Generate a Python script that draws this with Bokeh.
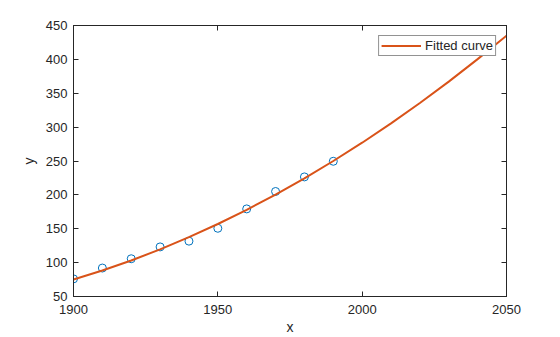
from bokeh.plotting import figure
from bokeh.models import LinearAxis, FixedTicker, Range1d, Legend, LegendItem
from bokeh.embed import file_html
from bokeh.resources import INLINE

# Data (census points and fitted curve)
years = [1900, 1910, 1920, 1930, 1940, 1950, 1960, 1970, 1980, 1990]
pop = [76.0, 92.0, 105.7, 123.2, 131.7, 150.7, 179.3, 205.0, 226.5, 249.6]

fit_x = [1900, 1910, 1920, 1930, 1940, 1950, 1960, 1970, 1980, 1990,
         2000, 2010, 2020, 2030, 2040, 2050]
fit_y = [75.0, 88.4, 103.2, 119.6, 137.6, 157.0, 178.0, 200.4, 224.4, 250.0,
         277.0, 305.6, 335.6, 367.2, 400.4, 435.0]

x_ticks = [1900, 1950, 2000, 2050]
y_ticks = [50, 100, 150, 200, 250, 300, 350, 400, 450]

FONT = "Liberation Sans"
AX = "#262626"

p = figure(width=560, height=337, output_backend="svg", toolbar_location=None,
           x_range=Range1d(1900, 2050), y_range=Range1d(50, 450),
           min_border_left=73, min_border_right=54, min_border_top=25,
           min_border_bottom=41)
p.background_fill_color = "white"
p.border_fill_color = "white"
p.outline_line_color = AX
p.outline_line_width = 1
p.xgrid.visible = False
p.ygrid.visible = False

def style(ax, ticks, labels=True):
    ax.ticker = FixedTicker(ticks=ticks)
    ax.major_tick_in = 5
    ax.major_tick_out = 0
    ax.minor_tick_line_color = None
    ax.axis_line_color = AX
    ax.major_tick_line_color = AX
    ax.major_label_text_font = FONT
    ax.major_label_text_font_size = "13px"
    ax.major_label_text_color = AX
    ax.axis_label_text_font = FONT
    ax.axis_label_text_font_size = "14px"
    ax.axis_label_text_font_style = "normal"
    ax.axis_label_text_color = AX
    if not labels:
        ax.major_label_text_color = None
        ax.major_label_standoff = 0

style(p.xaxis[0], x_ticks)
style(p.yaxis[0], y_ticks)
p.xaxis[0].axis_label = "x"
p.yaxis[0].axis_label = "y"
p.xaxis[0].major_label_standoff = 8
p.yaxis[0].major_label_standoff = 6
p.xaxis[0].axis_label_standoff = 2
p.yaxis[0].axis_label_standoff = 6

top = LinearAxis()
style(top, x_ticks, labels=False)
p.add_layout(top, "above")
right = LinearAxis()
style(right, y_ticks, labels=False)
p.add_layout(right, "right")

p.scatter(years, pop, marker="circle", size=8, fill_color=None,
          line_color="#0072BD", line_width=1)
line = p.line(fit_x, fit_y, line_color="#D95319", line_width=2)

legend = Legend(items=[LegendItem(label="Fitted curve", renderers=[line])],
                location="top_right")
legend.label_text_font = FONT
legend.label_text_font_size = "13px"
legend.label_text_color = AX
legend.border_line_color = AX
legend.border_line_width = 1
legend.padding = 2
legend.margin = 10
legend.spacing = 0
legend.glyph_width = 40
legend.glyph_height = 13
legend.label_height = 13
legend.label_standoff = 4
legend.background_fill_alpha = 1
p.add_layout(legend, "center")

open("out.html", "w").write(file_html(p, INLINE))
